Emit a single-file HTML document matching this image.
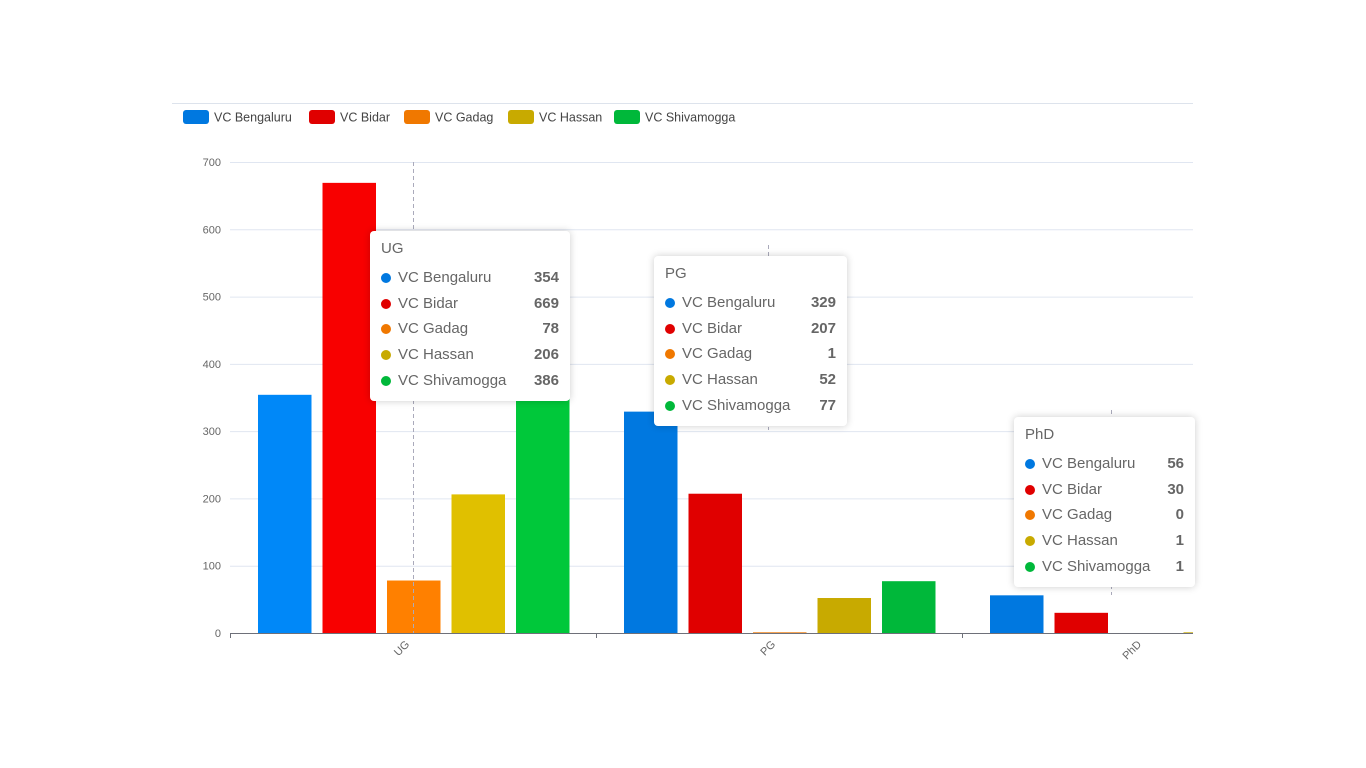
<!DOCTYPE html>
<html><head><meta charset="utf-8"><style>
body{margin:0;width:1366px;height:768px;background:#fff;overflow:hidden;font-family:"Liberation Sans",sans-serif;position:relative}
svg{position:absolute;left:0;top:0}
.tip{position:absolute;background:#fff;border-radius:4px;box-shadow:0 0 8px rgba(0,0,0,.2);padding:8px 11px;font-size:15px;color:#666;box-sizing:border-box}
.tip .t{height:26px;line-height:20px}
.tip .r{height:25.7px;line-height:25.7px;display:flex;align-items:center}
.tip .d{width:10px;height:10px;border-radius:50%;margin-right:7px}
.tip .n{flex:1}
.tip .v{font-weight:bold;color:#666}
</style></head><body>
<svg width="1366" height="768" id="chart"></svg>
<div id="tips"></div>
<script>
const categories=["UG","PG","PhD"];
const seriesNames=["VC Bengaluru","VC Bidar","VC Gadag","VC Hassan","VC Shivamogga"];
const bengaluru=[354,329,56];
const bidar=[669,207,30];
const gadag=[78,1,0];
const hassan=[206,52,1];
const shivamogga=[386,77,1];
const yTicks=[0,100,200,300,400,500,600,700];
const series=[bengaluru,bidar,gadag,hassan,shivamogga];
const colors=["#0078e0","#e00000","#f07800","#c8aa00","#00b83a"];
const hiColors=["#0088f8","#f80000","#ff8000","#e0c000","#00c83a"];
const NS="http://www.w3.org/2000/svg";
const svg=document.getElementById('chart');
const X0=230,X1=1193,Y0=633,YT=162,BAND=366;
const y=v=>Y0-(v/700)*(Y0-YT);
const bandX=i=>X0+i*BAND;
function mk(t,a){const e=document.createElementNS(NS,t);for(const k in a)e.setAttribute(k,a[k]);svg.appendChild(e);return e;}
let e=mk('line',{x1:172,x2:1193,y1:103.5,y2:103.5,stroke:'#dde3ec'});

// legend
const lx=[183,309,404,508,614];
seriesNames.forEach((n,i)=>{
 const g=document.createElementNS(NS,'g');svg.appendChild(g);
 
 const r=document.createElementNS(NS,'rect');
 Object.entries({x:lx[i],y:110,width:26,height:14,rx:3,fill:colors[i]}).forEach(([k,v])=>r.setAttribute(k,v));g.appendChild(r);
 const t=document.createElementNS(NS,'text');
 Object.entries({x:lx[i]+31,y:121.5,'font-size':12.5,fill:'#444'}).forEach(([k,v])=>t.setAttribute(k,v));t.textContent=n;g.appendChild(t);
});
yTicks.forEach(v=>{
 if(v>0){const l=mk('line',{x1:X0,x2:X1,y1:y(v)+.5,y2:y(v)+.5,stroke:'#e0e6f1'});
 }
 const t=mk('text',{x:221,y:y(v)+4,'font-size':11,fill:'#666','text-anchor':'end'});t.textContent=v;
 
});
// bars
const cp=mk('clipPath',{id:'cp'});const cr=document.createElementNS(NS,'rect');
cr.setAttribute('x',X0);cr.setAttribute('y',0);cr.setAttribute('width',X1-X0);cr.setAttribute('height',Y0+1);cp.appendChild(cr);
const bg=mk('g',{'clip-path':'url(#cp)'});
categories.forEach((c,ci)=>{
 series.forEach((s,si)=>{
  const bx=bandX(ci)+28+si*64.5;
  const r=document.createElementNS(NS,'rect');
  const top=y(s[ci]);
  r.setAttribute('x',bx);r.setAttribute('y',top);r.setAttribute('width',53.5);r.setAttribute('height',Math.max(Y0-top,0));
  r.setAttribute('fill',ci===0?hiColors[si]:colors[si]);
  
  bg.appendChild(r);
 });
});
// axis pointers
[[413,162,633],[768,245,430],[1111,410,595]].forEach(p=>{
 const l=mk('line',{x1:p[0]+.5,x2:p[0]+.5,y1:p[1],y2:p[2],stroke:'#aab',"stroke-dasharray":'4,3'});
 
});
e=mk('line',{x1:X0,x2:X1,y1:Y0+.5,y2:Y0+.5,stroke:'#6e7079'});

categories.forEach((c,ci)=>{
 const tx=bandX(ci);
 const tk=mk('line',{x1:tx+.5,x2:tx+.5,y1:Y0,y2:Y0+5,stroke:'#6e7079'});
 
 const cx=tx+BAND/2-3;
 const t=mk('text',{x:cx,y:Y0+12,'font-size':11,fill:'#666','text-anchor':'end',transform:`rotate(-45 ${cx} ${Y0+12})`});
 t.textContent=c;
});
// tooltips
const tipPos=[[370,231,200],[654,256,193],[1014,417,181]];
const tips=document.getElementById('tips');
categories.forEach((c,ci)=>{
 const d=document.createElement('div');d.className='tip';
 
 
 d.style.left=tipPos[ci][0]+'px';d.style.top=tipPos[ci][1]+'px';d.style.width=tipPos[ci][2]+'px';
 let h=`<div class="t">${c}</div>`;
 seriesNames.forEach((n,si)=>{h+=`<div class="r"><span class="d" style="background:${colors[si]}"></span><span class="n">${n}</span><span class="v">${series[si][ci]}</span></div>`;});
 d.innerHTML=h;tips.appendChild(d);
});
</script>
</body></html>
